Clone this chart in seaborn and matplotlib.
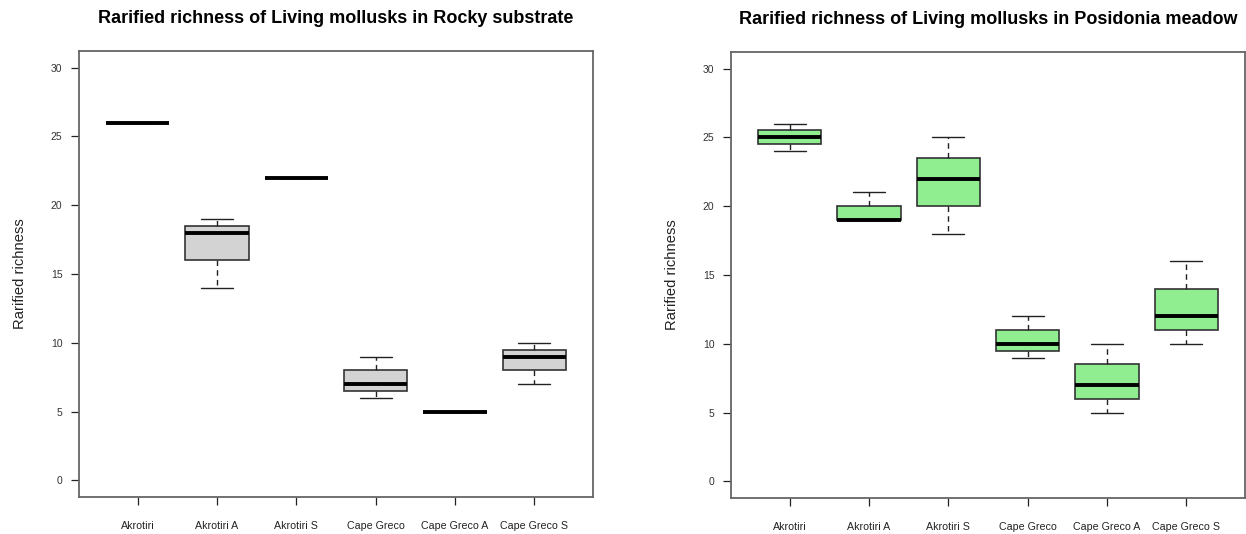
import numpy as np
import pandas as pd
import matplotlib
matplotlib.use("Agg")
import matplotlib.pyplot as plt
import seaborn as sns

sites = ["Akrotiri", "Akrotiri A", "Akrotiri S", "Cape Greco", "Cape Greco A", "Cape Greco S"]

# Rarified richness replicates (read from the box summaries)
rocky_akrotiri = [26, 26, 26]
rocky_akrotiri_a = [14, 18, 19]
rocky_akrotiri_s = [22, 22, 22]
rocky_cape_greco = [6, 7, 9]
rocky_cape_greco_a = [5, 5, 5]
rocky_cape_greco_s = [7, 9, 10]

pos_akrotiri = [24, 25, 26]
pos_akrotiri_a = [19, 19, 21]
pos_akrotiri_s = [18, 22, 25]
pos_cape_greco = [9, 10, 12]
pos_cape_greco_a = [5, 7, 10]
pos_cape_greco_s = [10, 12, 16]

y_ticks = [0, 5, 10, 15, 20, 25, 30]

rocky = [rocky_akrotiri, rocky_akrotiri_a, rocky_akrotiri_s,
         rocky_cape_greco, rocky_cape_greco_a, rocky_cape_greco_s]
posid = [pos_akrotiri, pos_akrotiri_a, pos_akrotiri_s,
         pos_cape_greco, pos_cape_greco_a, pos_cape_greco_s]


def long_df(groups):
    rows = []
    for s, vals in zip(sites, groups):
        for v in vals:
            rows.append({"site": s, "richness": v})
    return pd.DataFrame(rows)


sns.set_theme(style="white")
plt.rcParams["font.family"] = ["Liberation Sans", "DejaVu Sans"]

fig = plt.figure(figsize=(12.46, 5.34), dpi=100)
W, H = 1246, 534
ax1 = fig.add_axes([79 / W, (H - 497) / H, (593 - 79) / W, (497 - 51) / H])
ax2 = fig.add_axes([731 / W, (H - 498) / H, (1245 - 731) / W, (498 - 52) / H])

panels = [
    (ax1, rocky, "#D3D3D3", "Rarified richness of Living mollusks in Rocky substrate"),
    (ax2, posid, "#90EE90", "Rarified richness of Living mollusks in Posidonia meadow"),
]

for ax, groups, col, title in panels:
    df = long_df(groups)
    sns.boxplot(
        data=df, x="site", y="richness", order=sites, ax=ax,
        color=col, saturation=1, width=0.8, linecolor="#333333", linewidth=1.2,
        whiskerprops=dict(linestyle=(0, (4, 3)), color="#222222", linewidth=1.0),
        capprops=dict(color="#222222", linewidth=1.0),
        medianprops=dict(linewidth=2.8, color="black"),
        showfliers=False,
    )
    ax.set_xlim(-0.74, 5.74)
    ax.set_ylim(-1.2, 31.2)
    ax.set_yticks(y_ticks)
    ax.set_yticklabels([str(t) for t in y_ticks])
    ax.set_xlabel("")
    ax.set_ylabel("Rarified richness", fontsize=10.6, color="#222222", labelpad=17)
    ax.set_title(title, fontsize=13, fontweight="bold", pad=20, color="black")
    for sp in ax.spines.values():
        sp.set_visible(True)
        sp.set_color("#666666")
        sp.set_linewidth(1.3)
    ax.tick_params(axis="y", direction="out", length=6, width=0.9, color="#222222",
                   labelsize=7.5, pad=6, labelcolor="#333333", left=True)
    ax.tick_params(axis="x", direction="out", length=6, width=0.9, color="#222222",
                   labelsize=7.7, pad=11, labelcolor="#222222", bottom=True)
    ax.grid(False)

fig.savefig("out.png", dpi=100)
